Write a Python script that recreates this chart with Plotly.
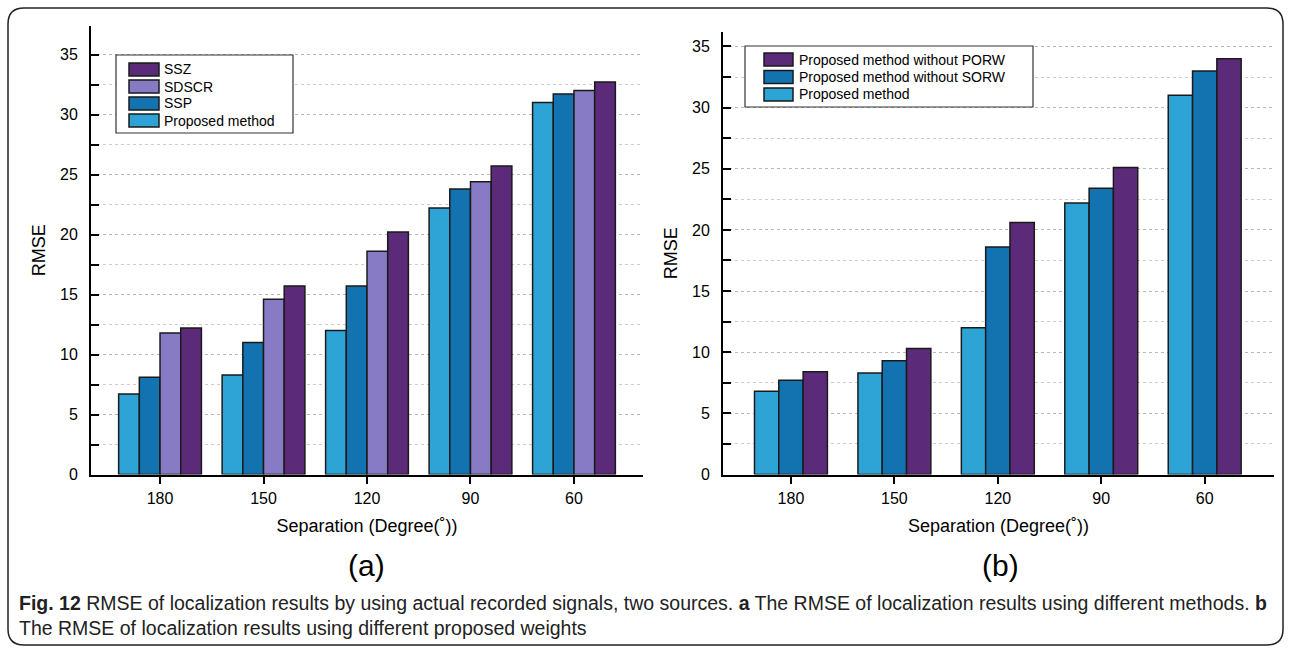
import plotly.graph_objects as go

# Data
separations = ["180", "150", "120", "90", "60"]

# (a) different methods
proposed_a = [6.7, 8.3, 12.0, 22.2, 31.0]
ssp = [8.1, 11.0, 15.7, 23.8, 31.7]
sdscr = [11.8, 14.6, 18.6, 24.4, 32.0]
ssz = [12.2, 15.7, 20.2, 25.7, 32.7]

# (b) different proposed weights
proposed_b = [6.8, 8.3, 12.0, 22.2, 31.0]
without_sorw = [7.7, 9.3, 18.6, 23.4, 33.0]
without_porw = [8.4, 10.3, 20.6, 25.1, 34.0]

C_LIGHT = "#2ea4d6"
C_BLUE = "#1372b0"
C_LAV = "#877bc6"
C_PURP = "#5b2a78"
EDGE = "#1a1a1a"

W, H = 1290, 649
FONT = "Liberation Sans, Arial, sans-serif"


def px(x):
    return x / W


def py(y):
    return 1 - y / H


fig = go.Figure()

series_a = [("Proposed method", proposed_a, C_LIGHT), ("SSP", ssp, C_BLUE),
            ("SDSCR", sdscr, C_LAV), ("SSZ", ssz, C_PURP)]
for name, vals, col in series_a:
    fig.add_trace(go.Bar(x=separations, y=vals, name=name, marker_color=col,
                         marker_line=dict(color=EDGE, width=1.5),
                         xaxis="x", yaxis="y", showlegend=False))

series_b = [("Proposed method", proposed_b, C_LIGHT),
            ("Proposed method without SORW", without_sorw, C_BLUE),
            ("Proposed method without PORW", without_porw, C_PURP)]
# panel (b) uses wider gaps between groups than panel (a)
BAR_W_B = 0.235
for i, (name, vals, col) in enumerate(series_b):
    fig.add_trace(go.Bar(x=separations, y=vals, name=name, marker_color=col,
                         marker_line=dict(color=EDGE, width=1.5),
                         xaxis="x2", yaxis="y2", showlegend=False,
                         width=BAR_W_B, offset=(i - 1.5) * BAR_W_B))

y0 = 474.5
axis_common = dict(showline=True, linecolor="black", linewidth=2,
                   tickcolor="black", tickwidth=2,
                   tickfont=dict(family=FONT, size=16, color="black"),
                   zeroline=False, automargin=False)
yaxis_common = dict(axis_common, dtick=5, ticks="inside", ticklen=8,
                    ticklabelstandoff=8,
                    showgrid=True, gridcolor="#b8b8b8", griddash="dot", gridwidth=1,
                    minor=dict(dtick=2.5, ticks="inside", ticklen=8,
                               tickcolor="black", tickwidth=2,
                               showgrid=True, gridcolor="#cccccc",
                               griddash="dot", gridwidth=1),
                    title=dict(text="RMSE", font=dict(family=FONT, size=18, color="black"),
                               standoff=10))
xaxis_common = dict(axis_common, showgrid=False, type="category",
                    ticks="outside", ticklen=7, ticklabelstandoff=1,
                    title=dict(text="Separation (Degree(˚))",
                               font=dict(family=FONT, size=18, color="black"),
                               standoff=14))

fig.update_layout(
    width=W, height=H,
    margin=dict(l=0, r=0, t=0, b=0),
    paper_bgcolor="white", plot_bgcolor="white",
    barmode="group", bargap=0.20, bargroupgap=0,
    showlegend=False,
    xaxis=dict(xaxis_common, domain=[px(91), px(643)], range=[-0.667, 4.667],
               anchor="y"),
    yaxis=dict(yaxis_common, domain=[py(y0), py(26)], range=[0, (y0 - 26) / 12.0],
               anchor="x"),
    xaxis2=dict(xaxis_common, domain=[px(723), px(1274)], range=[-0.657, 4.67],
                anchor="y2"),
    yaxis2=dict(yaxis_common, domain=[py(y0), py(32)],
                range=[0, (y0 - 32) / 12.23], anchor="x2"),
)


def draw_legend(box, entries, sym_x, sym_w, top, step, sym_h, text_x, size):
    """Boxed key: one filled swatch and label per series, top to bottom."""
    bx0, by0, bx1, by1 = box
    fig.add_shape(type="rect", xref="paper", yref="paper",
                  x0=px(bx0), x1=px(bx1), y0=py(by1), y1=py(by0),
                  fillcolor="white", line=dict(color="#333", width=1.2))
    for i, (name, col) in enumerate(entries):
        t = top + i * step
        fig.add_shape(type="rect", xref="paper", yref="paper",
                      x0=px(sym_x), x1=px(sym_x + sym_w),
                      y0=py(t + sym_h), y1=py(t),
                      fillcolor=col, line=dict(color=EDGE, width=1.5))
        fig.add_annotation(text=name, x=px(text_x), y=py(t + sym_h / 2),
                           xref="paper", yref="paper", showarrow=False,
                           xanchor="left", yanchor="middle",
                           font=dict(family=FONT, size=size, color="black"))


draw_legend((116, 55, 293, 133), [(n, c) for n, _, c in reversed(series_a)],
            sym_x=129, sym_w=30, top=63, step=17, sym_h=13, text_x=162, size=14)
draw_legend((745, 46, 1033, 107), [(n, c) for n, _, c in reversed(series_b)],
            sym_x=764, sym_w=29, top=53, step=17.5, sym_h=13, text_x=797, size=14)

# Panel labels
for label, xc in [("(a)", 366), ("(b)", 1000)]:
    fig.add_annotation(text=label, x=px(xc), y=py(565), xref="paper", yref="paper",
                       showarrow=False, font=dict(family=FONT, size=30, color="black"),
                       xanchor="center", yanchor="middle")

# Caption
caption = ("<b>Fig. 12</b> RMSE of localization results by using actual recorded signals, "
           "two sources. <b>a</b> The RMSE of localization results using different methods. "
           "<b>b</b><br>The RMSE of localization results using different proposed weights")
fig.add_annotation(text=caption, x=px(17), y=py(590), xref="paper", yref="paper",
                   showarrow=False, align="left", xanchor="left", yanchor="top",
                   font=dict(family=FONT, size=19.5, color="#222"))

# Rounded outer frame
L, T, R, B, r = 8, 8, 1283, 645, 16
path = (f"M {px(L + r)},{py(T)} L {px(R - r)},{py(T)} Q {px(R)},{py(T)} {px(R)},{py(T + r)} "
        f"L {px(R)},{py(B - r)} Q {px(R)},{py(B)} {px(R - r)},{py(B)} "
        f"L {px(L + r)},{py(B)} Q {px(L)},{py(B)} {px(L)},{py(B - r)} "
        f"L {px(L)},{py(T + r)} Q {px(L)},{py(T)} {px(L + r)},{py(T)} Z")
fig.add_shape(type="path", path=path, xref="paper", yref="paper",
              line=dict(color="#222", width=1.5), layer="below")

fig.write_html("out.html")
